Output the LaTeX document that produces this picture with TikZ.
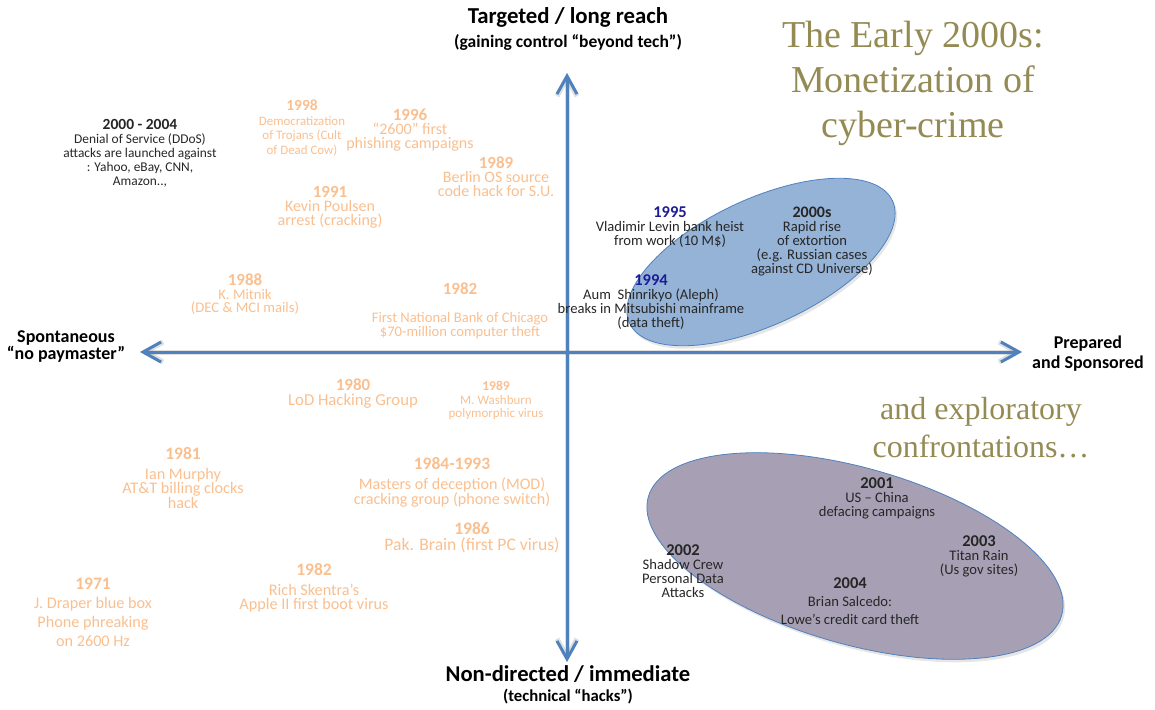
\documentclass[tikz,border=0pt]{standalone}
\usepackage{fontspec}
\setmainfont{Carlito}
\newfontfamily\serifttl{Liberation Serif}
\usepackage{tikz}
\usetikzlibrary{arrows.meta,shadows}
\definecolor{axisblue}{RGB}{79,129,189}
\definecolor{oldorange}{RGB}{250,191,143}
\definecolor{olivetitle}{RGB}{148,138,84}
\definecolor{bluefill}{RGB}{149,179,215}
\definecolor{violetfill}{RGB}{167,160,181}
\definecolor{yearnavy}{RGB}{28,28,150}
\newcommand{\fsz}[2]{\fontsize{#1}{#2}\selectfont}
\newcommand{\yr}[2]{{\fontsize{#1}{#1}\selectfont\bfseries #2}}
\newcommand{\nyr}[1]{{\fontsize{16.5}{16.5}\selectfont\bfseries\color{yearnavy}#1}}

\begin{document}
\begin{tikzpicture}[x=1pt,y=-1pt,
    old/.style={text=oldorange, align=center, inner sep=0pt, anchor=north},
    recent/.style={text=black!85, align=center, inner sep=0pt, anchor=north, font=\fsz{14.6}{14}},
    axislbl/.style={align=center, inner sep=0pt, anchor=north},
    slogan/.style={text=olivetitle, align=center, inner sep=0pt, anchor=north},
    barb/.tip={Straight Barb[length=18pt,width=20pt]},
    axisline/.style={axisblue, line width=3pt, barb-barb},
    axisshadow/.style={black, opacity=.12, line width=5pt, barb-barb, xshift=2pt, yshift=-3pt},
    blob/.style={draw=axisblue, line width=.8pt, drop shadow={shadow xshift=2pt, shadow yshift=-3pt, opacity=.2}}]
    \useasboundingbox (0,0) rectangle (1155,709);

    \coordinate (spont) at (140,352);
    \coordinate (sponsor) at (1022,352);
    \coordinate (reach) at (567,73);
    \coordinate (hacks) at (567,662);

    \draw[axisshadow] (spont) -- (sponsor);
    \draw[axisshadow] (hacks) -- (reach);
    \draw[axisline] (spont) -- (sponsor);
    \draw[axisline] (hacks) -- (reach);

    \draw[blob, fill=bluefill, rotate around={25:(761,262)}] (761,262) ellipse [x radius=145, y radius=63];
    \draw[blob, fill=violetfill, rotate around={-16:(855,556)}] (855,556) ellipse [x radius=215, y radius=88];

    % axis labels
    \node[axislbl, font=\bfseries\fsz{17.5}{24}] (reachlbl) at (568,7) {{\fontsize{22.8}{24}\selectfont Targeted / long reach}\\(gaining control “beyond tech”)};
    \node[axislbl, font=\bfseries\fsz{16.7}{20}] (hackslbl) at (568,665) {{\fontsize{22.6}{20}\selectfont Non-directed / immediate}\\(technical “hacks”)};
    \node[axislbl, font=\bfseries\fsz{18}{17}] (spontlbl) at (66,330) {Spontaneous\\“no paymaster”};
    \node[axislbl, font=\bfseries\fsz{18}{20}] (sponsorlbl) at (1088,336) {Prepared\\and Sponsored};

    \node[slogan, font=\serifttl\fsz{38}{45}] (headline) at (913,21) {The Early 2000s:\\Monetization of\\cyber-crime};
    \node[slogan, font=\serifttl\fsz{32}{38}] (explore) at (981,397) {and exploratory\\confrontations…};

    % old hacks
    \node[old, font=\fsz{12.9}{14.5}] (y1998) at (302,100) {\yr{15.5}{1998}\\Democratization\\of Trojans (Cult\\of Dead Cow)};
    \node[old, font=\fsz{16}{14}] (y1996) at (410,109) {\yr{17}{1996}\\“2600” first\\phishing campaigns};
    \node[old, font=\fsz{16}{14}] (y1989a) at (496,157) {\yr{17}{1989}\\Berlin OS source\\code hack for S.U.};
    \node[old, font=\fsz{16}{14}] (y1991) at (330,186) {\yr{17}{1991}\\Kevin Poulsen\\arrest (cracking)};
    \node[old, font=\fsz{14.7}{13.5}] (y1988) at (245,274) {\yr{17}{1988}\\K. Mitnik\\(DEC \& MCI mails)};
    \node[old, font=\fsz{14.6}{14}] (y1982a) at (460,283) {\yr{17}{1982}\\[14pt]First National Bank of Chicago\\\$70-million computer theft};
    \node[old, font=\fsz{16.7}{15}] (y1980) at (353,379) {\yr{17}{1980}\\LoD Hacking Group};
    \node[old, font=\fsz{13}{13.5}] (y1989b) at (496,381) {\yr{13.5}{1989}\\M. Washburn\\polymorphic virus};
    \node[old, font=\fsz{16.2}{14}] (y1981) at (183,447) {\yr{17.5}{1981}\\[6pt]Ian Murphy\\AT\&T billing clocks\\hack};
    \node[old, font=\fsz{16.1}{14}] (y1984) at (452,457) {\yr{17.5}{1984-1993}\\[6pt]Masters of deception (MOD)\\cracking group (phone switch)};
    \node[old, font=\fsz{17.6}{16.5}] (y1986) at (472,522) {\yr{17.5}{1986}\\Pak. Brain (first PC virus)};
    \node[old, font=\fsz{16.2}{14}] (y1982b) at (314,563) {\yr{17.5}{1982}\\[6pt]Rich Skentra’s\\Apple II first boot virus};
    \node[old, font=\fsz{16.2}{19}] (y1971) at (93,578) {\yr{17.5}{1971}\\J. Draper blue box\\Phone phreaking\\on 2600 Hz};

    \node[recent, font=\fsz{13.4}{14}] (ddos) at (140,119) {\yr{15.5}{2000 - 2004}\\Denial of Service (DDoS)\\attacks are launched against\\: Yahoo, eBay, CNN,\\Amazon..,};

    % monetization
    \node[recent] (levin) at (670,206) {\nyr{1995}\\Vladimir Levin bank heist\\from work (10 M\$)};
    \node[recent] (aum) at (651,274) {\nyr{1994}\\Aum\ \ Shinrikyo (Aleph)\\breaks in Mitsubishi mainframe\\(data theft)};
    \node[recent] (extort) at (812,207) {\yr{16}{2000s}\\Rapid rise\\of extortion\\(e.g. Russian cases\\against CD Universe)};

    % confrontations
    \node[recent] (deface) at (877,477) {\yr{16.5}{2001}\\US – China\\defacing campaigns};
    \node[recent] (titan) at (979,535) {\yr{16.5}{2003}\\Titan Rain\\(Us gov sites)};
    \node[recent] (shadowcrew) at (683,544) {\yr{16.5}{2002}\\Shadow Crew\\Personal Data\\Attacks};
    \node[recent] (salcedo) at (850,577) {\yr{16.5}{2004}\\[4pt]Brian Salcedo:\\[4pt]Lowe’s credit card theft};
\end{tikzpicture}
\end{document}
